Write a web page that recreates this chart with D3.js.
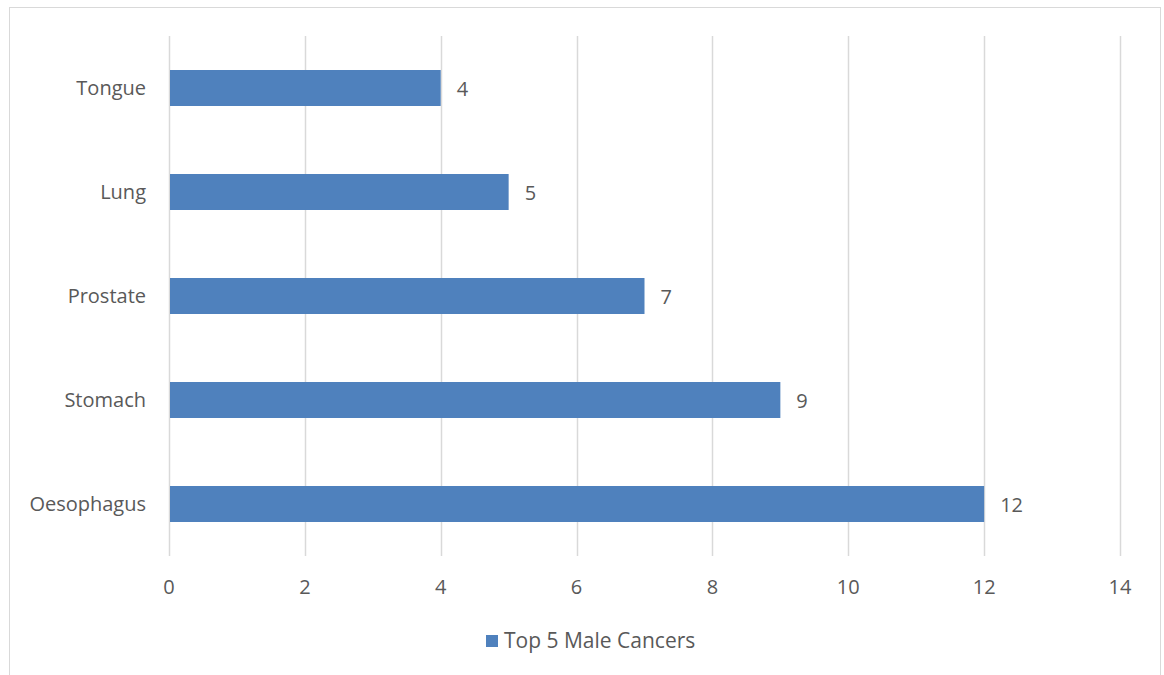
<!DOCTYPE html>
<html>
<head>
<meta charset="utf-8">
<script src="https://cdn.jsdelivr.net/npm/d3@7"></script>
<style>
  body { margin: 0; background: #fff; }
  svg text { font-family: "Open Sans", "Liberation Sans", sans-serif; fill: #595959; }
</style>
</head>
<body>
<svg id="chart" width="1164" height="675"></svg>
<script>
const categories = ['Tongue', 'Lung', 'Prostate', 'Stomach', 'Oesophagus'];
const values = [4, 5, 7, 9, 12];
const xTicks = [0, 2, 4, 6, 8, 10, 12, 14];
const seriesName = 'Top 5 Male Cancers';

const svg = d3.select('#chart');
const barColor = '#4f81bd';
const gridColor = '#d9d9d9';
const fontSize = '20px';

// outer frame
svg.append('rect')
  .attr('x', 9.5).attr('y', 7.5)
  .attr('width', 1151).attr('height', 680)
  .attr('fill', 'none')
  .attr('stroke', gridColor);

const plotLeft = 169, plotRight = 1120, plotTop = 36, plotBottom = 556;

const x = d3.scaleLinear().domain([0, 14]).range([plotLeft, plotRight]);
const y = d3.scaleBand().domain(categories).range([plotTop, plotBottom]).paddingInner(0.654).paddingOuter(0.327);

// grid
svg.append('g')
  .selectAll('line')
  .data(xTicks)
  .enter()
  .append('line')
  .attr('x1', (d) => Math.round(x(d)) + 0.5)
  .attr('x2', (d) => Math.round(x(d)) + 0.5)
  .attr('y1', plotTop)
  .attr('y2', plotBottom)
  .attr('stroke', gridColor)
  .attr('stroke-width', 1.5);

// bars
svg.append('g')
  .selectAll('rect')
  .data(categories)
  .enter()
  .append('rect')
  .attr('x', x(0) + 1)
  .attr('y', (d) => y(d))
  .attr('width', (d, i) => x(values[i]) - x(0) - 1)
  .attr('height', y.bandwidth())
  .attr('fill', barColor);

// value labels
svg.append('g')
  .selectAll('text')
  .data(categories)
  .enter()
  .append('text')
  .attr('x', (d, i) => x(values[i]) + 16)
  .attr('y', (d) => y(d) + y.bandwidth() / 2 + 1)
  .attr('dy', '0.35em')
  .attr('font-size', fontSize)
  .text((d, i) => values[i]);

// category labels
svg.append('g')
  .selectAll('text')
  .data(categories)
  .enter()
  .append('text')
  .attr('x', plotLeft - 23)
  .attr('y', (d) => y(d) + y.bandwidth() / 2)
  .attr('dy', '0.35em')
  .attr('text-anchor', 'end')
  .attr('font-size', fontSize)
  .text((d) => d);

// x tick labels
svg.append('g')
  .selectAll('text')
  .data(xTicks)
  .enter()
  .append('text')
  .attr('x', (d) => x(d))
  .attr('y', 587)
  .attr('dy', '0.35em')
  .attr('text-anchor', 'middle')
  .attr('font-size', fontSize)
  .text((d) => d);

// legend
const legend = svg.append('g').attr('transform', 'translate(486,635)');
legend.append('rect')
  .attr('width', 12).attr('height', 12)
  .attr('fill', barColor);
legend.append('text')
  .attr('x', 18)
  .attr('y', 6)
  .attr('dy', '0.35em')
  .attr('font-size', '21px')
  .text(seriesName);
</script>
</body>
</html>
